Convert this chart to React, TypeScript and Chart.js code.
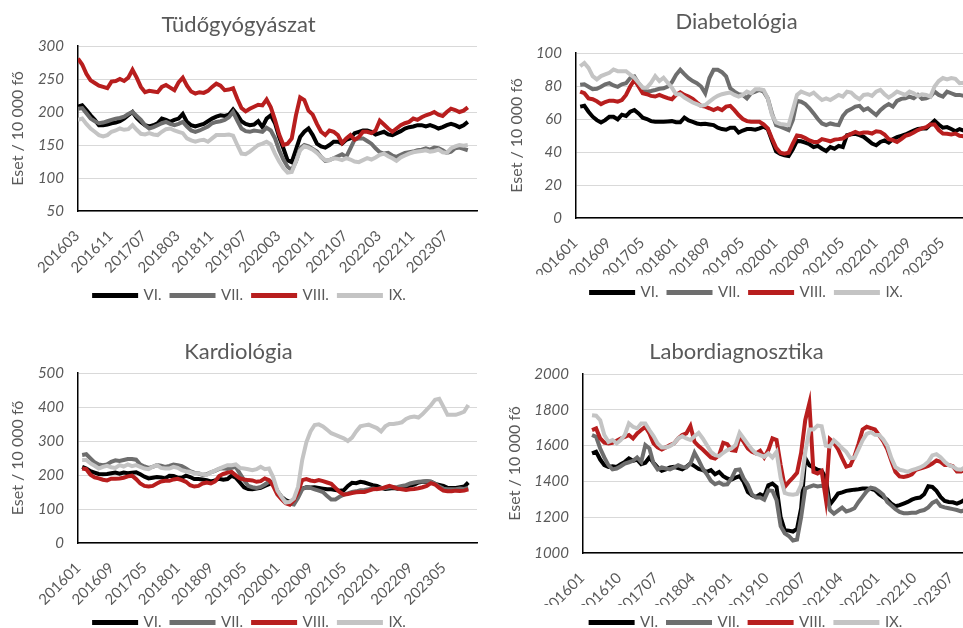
import React, { useEffect, useRef } from 'react';
import { Chart, registerables } from 'chart.js';

Chart.register(...registerables);

const FONT = 'Lato, "Open Sans", sans-serif';
const TEXT_GRAY = '#595959';

const SERIES_NAMES = ['VI.', 'VII.', 'VIII.', 'IX.'];
const SERIES_COLORS = ['#000000', '#6E6E6E', '#B81E1E', '#C4C4C4'];
const Y_TITLE = 'Eset / 10 000 fő';

// ---- Tüdőgyógyászat (monthly, 201603 – 202312) ----
const TUDO_TICKS = ['201603', '201611', '201707', '201803', '201811', '201907', '202003', '202011', '202107', '202203', '202211', '202307'];
const TUDO_VI = [208, 210, 203, 195, 188, 180, 180, 181, 183, 184, 186, 190, 195, 200, 191, 185, 180, 178, 180, 183, 190, 188, 185, 188, 190, 197, 185, 180, 178, 180, 182, 186, 190, 193, 195, 194, 196, 204, 196, 186, 182, 180, 181, 186, 177, 190, 195, 183, 162, 145, 127, 124, 143, 162, 170, 175, 165, 152, 148, 146, 150, 155, 155, 152, 158, 160, 168, 170, 172, 172, 170, 166, 168, 170, 166, 165, 168, 171, 175, 177, 178, 180, 180, 178, 180, 178, 175, 177, 180, 182, 180, 177, 180, 185];
const TUDO_VII = [205, 206, 198, 190, 186, 183, 184, 186, 188, 190, 191, 193, 197, 200, 194, 188, 180, 175, 177, 180, 183, 185, 182, 180, 182, 185, 178, 172, 170, 172, 175, 178, 183, 185, 186, 188, 192, 200, 187, 175, 171, 170, 172, 171, 170, 176, 172, 160, 142, 128, 117, 112, 125, 145, 150, 148, 144, 140, 132, 126, 127, 130, 133, 136, 132, 145, 158, 160, 160, 156, 152, 145, 139, 137, 138, 134, 132, 135, 138, 139, 140, 142, 143, 145, 143, 146, 145, 142, 138, 140, 145, 146, 144, 142];
const TUDO_VIII = [281, 272, 258, 248, 244, 240, 238, 236, 246, 247, 250, 247, 252, 264, 252, 238, 230, 232, 231, 230, 238, 241, 237, 233, 245, 252, 240, 231, 228, 230, 229, 232, 238, 243, 240, 233, 234, 236, 220, 206, 201, 205, 208, 211, 210, 219, 207, 188, 166, 150, 152, 160, 195, 222, 218, 202, 196, 182, 170, 165, 172, 170, 165, 153, 160, 165, 158, 162, 170, 170, 168, 172, 187, 181, 175, 170, 175, 180, 183, 185, 190, 188, 192, 195, 197, 200, 196, 194, 200, 205, 203, 200, 202, 207];
const TUDO_IX = [188, 190, 182, 175, 170, 165, 163, 165, 170, 172, 175, 173, 174, 180, 173, 167, 166, 168, 166, 165, 170, 174, 175, 172, 170, 168, 160, 157, 155, 157, 158, 155, 160, 165, 165, 165, 166, 164, 150, 137, 136, 140, 145, 150, 152, 155, 151, 137, 125, 115, 108, 109, 125, 142, 148, 146, 143, 138, 132, 127, 127, 130, 129, 127, 130, 128, 125, 124, 127, 130, 128, 131, 135, 137, 133, 130, 126, 131, 134, 137, 139, 140, 141, 142, 140, 141, 143, 139, 138, 145, 148, 150, 149, 150];

// ---- Diabetológia (monthly, 201601 – 202312) ----
const DIAB_TICKS = ['201601', '201609', '201705', '201801', '201809', '201905', '202001', '202009', '202105', '202201', '202209', '202305'];
const DIAB_VI = [67.5, 68, 64.4, 61.4, 59.3, 57.9, 59.3, 61.4, 61.4, 59.8, 62.6, 61.8, 64.4, 65.4, 63.4, 60.8, 60, 58.7, 58.3, 58.3, 58.3, 58.5, 58.7, 58, 58, 60.8, 59.1, 58.3, 57.3, 56.9, 57.1, 56.7, 56.3, 54.7, 53.9, 53.5, 54.7, 54.7, 51.8, 53, 53.9, 53.9, 53.5, 54.3, 55.3, 53.9, 47, 40.4, 38.8, 38, 37.6, 41.7, 46.7, 46.5, 45.7, 44.7, 43, 43.7, 42, 40.6, 43, 42, 43.7, 43, 50.2, 50.8, 51, 50.2, 49.2, 47.2, 45.1, 44.1, 46.1, 47, 45.7, 47.8, 49, 49.8, 50.6, 51.8, 53, 53.9, 54.3, 54.3, 56.7, 59, 56.7, 54.7, 55.1, 53.9, 52.6, 53.9, 53, 52.5, 53, 52];
const DIAB_VII = [80.7, 81, 79.5, 78, 78.3, 79.5, 81, 81.7, 80.3, 79.5, 81, 81.7, 84.8, 85.8, 81.7, 78.6, 76.6, 77, 77.6, 78.3, 78.6, 79.7, 82.3, 86.8, 89.8, 87.2, 84.8, 83, 81.7, 79.7, 75.6, 84.8, 89.8, 89.8, 88.4, 85.8, 78.6, 76.6, 75, 74.6, 72.5, 75.6, 76.6, 77.6, 76.6, 72.5, 63.4, 56.3, 55.3, 54.3, 53.3, 59.3, 71, 70.5, 69, 66.5, 63.4, 60, 57.3, 56.3, 57.3, 56.7, 56.3, 61.8, 64.8, 66, 67.5, 68, 65.4, 66.5, 64.4, 62.4, 65.4, 67.5, 69, 67.5, 71, 72.2, 72.6, 73.6, 72.6, 74.6, 72.2, 72.6, 73.6, 76.6, 74.6, 73.6, 76.6, 75.6, 74.6, 74.6, 74, 73, 74, 74];
const DIAB_VIII = [76.6, 75.6, 72.5, 72, 70.7, 69, 70.3, 71.1, 71.1, 70.5, 71.5, 74.6, 79.7, 83.7, 79.7, 75.6, 75, 74, 73.6, 74.6, 73.6, 72.6, 72, 74.6, 76.2, 74.6, 73.6, 72.2, 70, 68, 67.5, 66.5, 65.4, 66.5, 65.4, 67.5, 68, 65.4, 62.4, 60, 58.7, 58.3, 58.3, 58.3, 56.7, 54.3, 48.2, 42.5, 39.6, 39, 39.6, 45, 50, 49.6, 48.4, 47, 46.1, 46.1, 47.8, 47.2, 46.5, 47.5, 47.8, 48.2, 49.8, 51, 52.2, 51.2, 51.8, 51.8, 51.2, 52.6, 52.2, 50.6, 47.8, 47.2, 46.1, 47.8, 49.8, 50.6, 51.8, 53.3, 54.3, 55, 56.7, 56.7, 53.3, 51.2, 51, 50.6, 51.2, 49.8, 49.5, 49, 49.5, 49];
const DIAB_IX = [92, 94, 91, 86, 84, 86, 87, 88, 90, 89, 89, 89, 87, 85, 82, 79, 79, 82, 86, 83, 85, 82, 79, 75, 75, 73, 71.5, 70, 69, 68, 68.5, 70.5, 72.5, 74, 75, 75.6, 76, 74.6, 73.6, 74.6, 76.6, 75.6, 78, 78, 77.6, 72.5, 62.4, 58, 57, 56.7, 56.3, 65.4, 74.6, 76.6, 75.6, 74.6, 76, 73.6, 71.5, 72.5, 71.5, 73, 74.6, 73.6, 76.6, 76, 73.6, 72, 74.6, 75, 74, 76.6, 77.6, 75, 73, 74.6, 76.6, 75.6, 74.6, 76.6, 75.6, 74, 75, 74.6, 73.6, 79.7, 83, 84.8, 84, 84.8, 84.3, 81.7, 82, 81, 82, 82];

// ---- Kardiológia (monthly, 201601 – 202310) ----
const KARD_TICKS = ['201601', '201609', '201705', '201801', '201809', '201905', '202001', '202009', '202105', '202201', '202209', '202305'];
const KARD_VI = [224, 219, 211, 207, 203, 202, 203, 205, 207, 204, 207, 205, 207, 208, 202, 195, 190, 192, 194, 193, 190, 198, 197, 192, 192, 198, 194, 188, 188, 187, 185, 181, 184, 189, 186, 188, 198, 192, 178, 164, 159, 158, 160, 162, 168, 173, 180, 152, 136, 126, 121, 126, 145, 160, 164, 163, 164, 162, 160, 158, 158, 156, 154, 155, 168, 177, 176, 180, 178, 174, 170, 168, 162, 159, 160, 162, 160, 163, 166, 169, 172, 178, 180, 181, 180, 174, 171, 168, 162, 162, 162, 164, 166, 178];
const KARD_VII = [259, 261, 249, 237, 231, 229, 231, 239, 243, 241, 244, 247, 247, 245, 231, 225, 221, 224, 229, 227, 224, 227, 231, 229, 226, 219, 211, 207, 205, 200, 202, 208, 212, 218, 220, 218, 221, 224, 204, 185, 168, 164, 162, 165, 172, 180, 180, 152, 133, 123, 116, 113, 133, 158, 164, 162, 158, 154, 150, 138, 128, 128, 136, 142, 146, 150, 152, 155, 156, 158, 160, 158, 162, 162, 164, 164, 165, 168, 170, 175, 178, 180, 181, 182, 180, 174, 166, 160, 158, 158, 158, 160, 159, 162];
const KARD_VIII = [219, 217, 201, 193, 190, 186, 184, 189, 189, 190, 192, 196, 198, 188, 175, 168, 166, 168, 175, 181, 183, 183, 187, 189, 185, 180, 170, 166, 168, 175, 178, 175, 181, 197, 203, 207, 209, 199, 190, 187, 185, 184, 180, 182, 190, 185, 168, 143, 129, 117, 113, 126, 150, 185, 188, 184, 182, 185, 182, 178, 174, 162, 150, 142, 144, 147, 149, 150, 150, 154, 158, 159, 160, 164, 168, 164, 160, 158, 156, 158, 159, 161, 164, 168, 176, 172, 162, 154, 152, 152, 154, 153, 154, 158];
const KARD_IX = [244, 244, 234, 227, 219, 224, 227, 223, 221, 229, 225, 231, 226, 229, 224, 219, 217, 224, 229, 221, 219, 219, 224, 221, 214, 211, 209, 205, 205, 202, 200, 208, 213, 219, 224, 229, 229, 231, 221, 219, 217, 214, 217, 224, 217, 219, 194, 155, 136, 119, 121, 131, 165, 244, 296, 328, 347, 349, 343, 333, 323, 318, 313, 308, 300, 310, 328, 343, 346, 348, 343, 338, 328, 343, 350, 350, 352, 355, 365, 370, 372, 369, 379, 392, 405, 421, 424, 401, 377, 377, 377, 381, 386, 406];

// ---- Labordiagnosztika (monthly, 201601 – 202312) ----
const LAB_TICKS = ['201601', '201610', '201707', '201804', '201901', '201910', '202007', '202104', '202201', '202210', '202307'];
const LAB_VI = [1556, 1565, 1522, 1491, 1481, 1485, 1481, 1496, 1509, 1528, 1515, 1522, 1496, 1504, 1534, 1504, 1478, 1459, 1467, 1478, 1481, 1474, 1467, 1481, 1500, 1485, 1470, 1463, 1453, 1463, 1440, 1453, 1429, 1416, 1410, 1421, 1429, 1397, 1341, 1323, 1313, 1328, 1317, 1378, 1388, 1369, 1200, 1127, 1125, 1120, 1135, 1250, 1530, 1490, 1478, 1465, 1460, 1420, 1270, 1300, 1332, 1339, 1347, 1351, 1354, 1356, 1360, 1360, 1358, 1351, 1328, 1313, 1298, 1276, 1261, 1267, 1276, 1285, 1298, 1306, 1310, 1328, 1373, 1369, 1347, 1313, 1291, 1285, 1283, 1276, 1285, 1300, 1305, 1295, 1300, 1295];
const LAB_VII = [1659, 1649, 1584, 1534, 1491, 1467, 1472, 1485, 1500, 1507, 1515, 1534, 1509, 1603, 1584, 1500, 1467, 1478, 1472, 1467, 1478, 1491, 1481, 1478, 1500, 1560, 1519, 1472, 1440, 1403, 1384, 1394, 1381, 1384, 1416, 1463, 1467, 1416, 1381, 1328, 1310, 1310, 1298, 1350, 1347, 1295, 1150, 1110, 1095, 1070, 1075, 1200, 1360, 1370, 1378, 1372, 1375, 1370, 1240, 1220, 1237, 1254, 1232, 1240, 1250, 1285, 1315, 1345, 1365, 1360, 1345, 1325, 1285, 1265, 1245, 1229, 1222, 1222, 1225, 1225, 1235, 1240, 1255, 1280, 1292, 1262, 1255, 1250, 1245, 1240, 1232, 1240, 1245, 1240, 1245, 1250];
const LAB_VIII = [1687, 1696, 1640, 1616, 1612, 1616, 1627, 1640, 1649, 1659, 1640, 1668, 1687, 1705, 1668, 1612, 1590, 1578, 1590, 1603, 1612, 1640, 1659, 1668, 1709, 1621, 1597, 1578, 1556, 1534, 1528, 1547, 1616, 1608, 1575, 1571, 1649, 1621, 1584, 1565, 1556, 1571, 1534, 1575, 1640, 1631, 1491, 1369, 1397, 1421, 1448, 1560, 1742, 1836, 1453, 1444, 1458, 1304, 1636, 1615, 1580, 1530, 1483, 1490, 1540, 1610, 1690, 1705, 1698, 1690, 1658, 1625, 1580, 1515, 1453, 1428, 1425, 1430, 1440, 1465, 1472, 1479, 1487, 1500, 1517, 1509, 1492, 1491, 1485, 1455, 1455, 1465, 1460, 1475, 1480, 1475];
const LAB_IX = [1770, 1767, 1742, 1659, 1621, 1631, 1612, 1631, 1659, 1724, 1705, 1696, 1724, 1724, 1687, 1653, 1612, 1590, 1590, 1597, 1612, 1640, 1652, 1640, 1631, 1652, 1671, 1640, 1603, 1565, 1547, 1541, 1560, 1575, 1584, 1603, 1671, 1640, 1608, 1578, 1556, 1547, 1537, 1556, 1534, 1565, 1420, 1335, 1328, 1325, 1330, 1380, 1560, 1690, 1690, 1712, 1708, 1600, 1595, 1630, 1610, 1585, 1565, 1530, 1532, 1580, 1630, 1665, 1675, 1660, 1659, 1635, 1600, 1530, 1480, 1465, 1460, 1453, 1463, 1470, 1478, 1490, 1509, 1545, 1552, 1535, 1510, 1491, 1483, 1468, 1466, 1480, 1470, 1475, 1485, 1480];

type Spec = {
  title: string;
  ticks: string[];
  tickStep: number;
  series: number[][];
  xMin: number;
  xMax: number;
  yMin: number;
  yMax: number;
  yStep: number;
  left: number;
  top: number;
  w: number;
  h: number;
  titlePadTop: number;
  titlePadBottom: number;
  yWidth: number;
  yTitlePad: number;
  xHeight: number;
  padRight: number;
  legendShift: number;
  labelShift: number;
};

const PANELS: Spec[] = [
  {
    title: 'Tüdőgyógyászat', ticks: TUDO_TICKS, tickStep: 8,
    series: [TUDO_VI, TUDO_VII, TUDO_VIII, TUDO_IX],
    xMin: 0, xMax: 95.2, yMin: 50, yMax: 300, yStep: 50,
    left: 0, top: 0, w: 498, h: 313,
    titlePadTop: 11.8, titlePadBottom: 7.8, yWidth: 78, yTitlePad: 8.4, xHeight: 67, padRight: 21, legendShift: 11.5, labelShift: -1,
  },
  {
    title: 'Diabetológia', ticks: DIAB_TICKS, tickStep: 8,
    series: [DIAB_VI, DIAB_VII, DIAB_VIII, DIAB_IX],
    xMin: -1, xMax: 94.7, yMin: 0, yMax: 100, yStep: 20,
    left: 498, top: 0, w: 498, h: 310,
    titlePadTop: 8.8, titlePadBottom: 17.8, yWidth: 78, yTitlePad: 9.4, xHeight: 57, padRight: 21, legendShift: 10.5, labelShift: -5,
  },
  {
    title: 'Kardiológia', ticks: KARD_TICKS, tickStep: 8,
    series: [KARD_VI, KARD_VII, KARD_VIII, KARD_IX],
    xMin: -1, xMax: 95.1, yMin: 0, yMax: 500, yStep: 100,
    left: 0, top: 320, w: 498, h: 320,
    titlePadTop: 18.8, titlePadBottom: 7.8, yWidth: 78, yTitlePad: 8.4, xHeight: 62, padRight: 21, legendShift: 11.5, labelShift: -4,
  },
  {
    title: 'Labordiagnosztika', ticks: LAB_TICKS, tickStep: 9,
    series: [LAB_VI, LAB_VII, LAB_VIII, LAB_IX],
    xMin: -2.2, xMax: 93.4, yMin: 1000, yMax: 2000, yStep: 200,
    left: 498, top: 320, w: 498, h: 320,
    titlePadTop: 18.8, titlePadBottom: 8.8, yWidth: 85, yTitlePad: 7.4, xHeight: 52, padRight: 21, legendShift: 10, labelShift: -10,
  },
];

function makeConfig(s: Spec): any {
  const datasets = s.series.map((values, k) => ({
    label: SERIES_NAMES[k],
    data: values.map((y, i) => ({ x: i, y })),
    borderColor: SERIES_COLORS[k],
    backgroundColor: SERIES_COLORS[k],
    borderWidth: 4,
    pointRadius: 0,
    pointHoverRadius: 0,
    tension: 0,
    fill: false,
    order: 4 - k,
  }));
  const legendShift = {
    id: 'legendShift',
    afterLayout(chart: any) {
      const l = chart.legend;
      if (l) {
        l.left += s.legendShift;
        l.right += s.legendShift;
      }
    },
  };
  return {
    type: 'line',
    data: { datasets },
    plugins: [legendShift],
    options: {
      responsive: false,
      maintainAspectRatio: false,
      animation: false,
      devicePixelRatio: 1,
      events: [],
      layout: { padding: { left: 0, right: s.padRight, top: 0, bottom: 0 } },
      plugins: {
        title: {
          display: true,
          text: s.title,
          color: TEXT_GRAY,
          font: { family: FONT, size: 22, weight: 'normal' },
          padding: { top: s.titlePadTop, bottom: s.titlePadBottom },
        },
        legend: {
          display: true,
          position: 'bottom',
          labels: {
            boxWidth: 42,
            boxHeight: 1,
            padding: 10,
            color: TEXT_GRAY,
            font: { family: FONT, size: 15 },
            sort: (a: any, b: any) => a.datasetIndex - b.datasetIndex,
          },
        },
        tooltip: { enabled: false },
      },
      scales: {
        x: {
          type: 'linear',
          min: s.xMin,
          max: s.xMax,
          afterBuildTicks: (axis: any) => {
            axis.ticks = s.ticks.map((_, k) => ({ value: k * s.tickStep }));
          },
          afterFit: (axis: any) => {
            axis.height = s.xHeight;
          },
          ticks: {
            autoSkip: false,
            maxRotation: 45,
            minRotation: 45,
            padding: 16,
            labelOffset: s.labelShift,
            color: TEXT_GRAY,
            font: { family: FONT, size: 15 },
            callback: (_v: any, i: number) => s.ticks[i],
          },
          grid: { display: false, drawTicks: false },
          border: { display: true, color: '#000000', width: 1.5 },
        },
        y: {
          min: s.yMin,
          max: s.yMax,
          afterFit: (axis: any) => {
            axis.width = s.yWidth;
          },
          ticks: {
            stepSize: s.yStep,
            padding: 14,
            color: TEXT_GRAY,
            font: { family: FONT, size: 15, style: 'italic' },
            callback: (v: any) => String(v),
          },
          grid: { color: '#D9D9D9', lineWidth: 1, drawTicks: false },
          border: { display: true, color: '#000000', width: 1.5 },
          title: {
            display: true,
            text: Y_TITLE,
            color: TEXT_GRAY,
            font: { family: FONT, size: 16 },
            padding: { top: s.yTitlePad, bottom: 0 },
          },
        },
      },
    },
  };
}

function Panel({ spec }: { spec: Spec }) {
  const ref = useRef<HTMLCanvasElement | null>(null);
  useEffect(() => {
    if (!ref.current) return;
    const chart = new Chart(ref.current, makeConfig(spec));
    return () => chart.destroy();
  }, [spec]);
  return (
    <canvas
      ref={ref}
      width={spec.w}
      height={spec.h}
      style={{ position: 'absolute', left: spec.left, top: spec.top, width: spec.w, height: spec.h, display: 'block' }}
    />
  );
}

export default function App() {
  return (
    <div
      style={{
        position: 'fixed',
        left: 0,
        top: 0,
        width: 963,
        height: 628,
        overflow: 'hidden',
        background: '#ffffff',
      }}
    >
      {PANELS.map((p) => (
        <Panel key={p.title} spec={p} />
      ))}
    </div>
  );
}
